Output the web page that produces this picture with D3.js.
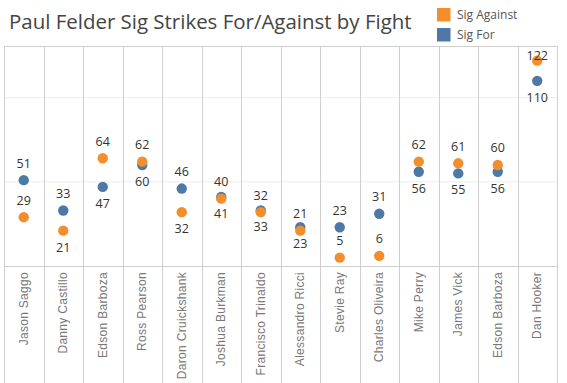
<!DOCTYPE html>
<html><head><meta charset="utf-8">
<script src="https://cdn.jsdelivr.net/npm/d3@7"></script>
<style>body{margin:0;background:#fff;} svg{display:block;}</style>
</head><body>
<svg id="c" width="567" height="383"></svg>
<script>
const fighters = ["Jason Saggo","Danny Castillo","Edson Barboza","Ross Pearson","Daron Cruickshank","Joshua Burkman","Francisco Trinaldo","Alessandro Ricci","Stevie Ray","Charles Oliveira","Mike Perry","James Vick","Edson Barboza","Dan Hooker"];
const sigFor = [51,33,47,60,46,41,33,23,23,31,56,55,56,110];
const sigAgainst = [29,21,64,62,32,40,32,21,5,6,62,61,60,122];
const gridTicks = [50,100];
const seriesNames = ["Sig Against","Sig For"];
const colors = {"Sig Against":"#f28e2b","Sig For":"#4e79a7"};

const svg = d3.select("#c");
const L=4, R=557, T=46, B=266;
const idx = d3.range(fighters.length);
const x = d3.scaleBand().domain(idx).range([L,R]).padding(0);
const y = d3.scaleLinear().domain([0,130.7]).range([B,T]);

// gridlines
svg.append("g").selectAll("line").data(gridTicks).join("line")
  .attr("x1",L).attr("x2",R).attr("y1",d=>y(d)).attr("y2",d=>y(d))
  .attr("stroke","#ececec").attr("stroke-width",1);

// column borders
const borders = idx.map(i=>x(i)).concat([R]);
svg.append("g").selectAll("line").data(borders).join("line")
  .attr("x1",d=>Math.round(d)+0.5).attr("x2",d=>Math.round(d)+0.5)
  .attr("y1",T).attr("y2",383).attr("stroke","#cfcfcf").attr("stroke-width",1);
svg.append("line").attr("x1",L).attr("x2",R).attr("y1",T+0.5).attr("y2",T+0.5).attr("stroke","#cfcfcf");
svg.append("line").attr("x1",L).attr("x2",R).attr("y1",B+0.5).attr("y2",B+0.5).attr("stroke","#cfcfcf");

// x axis labels
const cx = i => x(i)+x.bandwidth()/2;
svg.append("g").selectAll("text").data(idx).join("text")
  .attr("transform",i=>`translate(${cx(i)+4},${B+6}) rotate(-90)`)
  .attr("text-anchor","end")
  .style("font-family","'Liberation Sans', Arial, sans-serif")
  .style("font-size","12px").style("letter-spacing","0.3px")
  .attr("fill","#777")
  .text(i=>fighters[i]);

// points
const pts = [];
idx.forEach(i=>{ pts.push({i, s:"Sig For", v:sigFor[i]}); });
idx.forEach(i=>{ pts.push({i, s:"Sig Against", v:sigAgainst[i]}); });
svg.append("g").selectAll("circle").data(pts).join("circle")
  .attr("cx",d=>cx(d.i)).attr("cy",d=>y(d.v)).attr("r",5.2)
  .attr("fill",d=>colors[d.s]);

// label placement rule (Tableau-like collision avoidance)
function placement(i){
  const diff = sigFor[i]-sigAgainst[i];
  if (diff >= 17) return {"Sig For":"above","Sig Against":"above"};
  if (diff >= 6) return {"Sig For":"above","Sig Against":"below"};
  return {"Sig For":"below","Sig Against":"above"};
}
svg.append("g").selectAll("text").data(pts).join("text")
  .attr("x",d=>cx(d.i))
  .attr("y",d=>{
    const p = placement(d.i)[d.s];
    let yy = p==="above" ? y(d.v)-17 : y(d.v)+16.6;
    return Math.max(yy, T+10);
  })
  .attr("dy","0.35em")
  .attr("text-anchor","middle")
  .style("font-family","'Open Sans', sans-serif").style("font-size","12.5px")
  .attr("fill","#333")
  .text(d=>d.v);

// title
const title = svg.append("text").attr("x",9).attr("y",29)
  .style("font-family","'Open Sans', sans-serif").style("font-size","20px")
  .attr("fill","#444").text("Paul Felder Sig Strikes For/Against by Fight");
const tw = title.node().getComputedTextLength();
title.style("font-size",(20*403/tw).toFixed(2)+"px");

// legend
const lg = svg.append("g");
seriesNames.forEach((s,k)=>{
  lg.append("rect").attr("x",437).attr("y",8+k*20).attr("width",13.5).attr("height",13.5).attr("fill",colors[s]);
  lg.append("text").attr("x",457).attr("y",15+k*20).attr("dy","0.35em")
    .style("font-family","'Open Sans', sans-serif").style("font-size","12px")
    .attr("fill","#555").text(s);
});
</script>
</body></html>
